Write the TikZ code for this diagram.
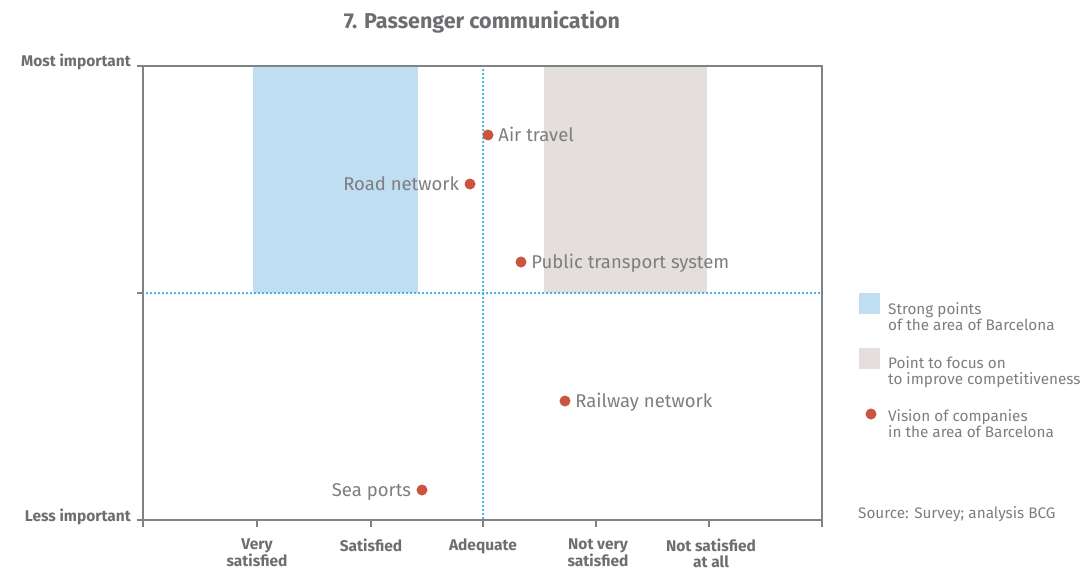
\documentclass[tikz,border=0pt]{standalone}
\usepackage{fontspec}
\setmainfont{Fira Sans}
\usetikzlibrary{positioning}
\definecolor{framegray}{HTML}{808285}
\definecolor{headgray}{HTML}{6D6E71}
\definecolor{labelgray}{HTML}{7D7E81}
\definecolor{strongblue}{HTML}{C0DEF2}
\definecolor{focusgray}{HTML}{E4DFDD}
\definecolor{visionred}{HTML}{C9553F}
\definecolor{midblue}{HTML}{29A9E0}
\tikzset{
	frame/.style={framegray,line width=1.6pt},
	midline/.style={midblue,line width=2.5pt,dash pattern=on 0pt off 4pt,line cap=round},
	vision/.style={circle,fill=visionred,inner sep=0pt,minimum size=11pt},
	itemlabel/.style={text=labelgray,font=\fontsize{18.5}{18.5}\selectfont,inner sep=0pt,text height=12.5pt,text depth=0pt},
	axislabel/.style={text=headgray,font=\bfseries\fontsize{15.5}{15.5}\selectfont,align=center,inner sep=0pt},
	legendtext/.style={text=labelgray,font=\fontsize{15.3}{16}\selectfont,align=left,inner sep=0pt,anchor=north west}
}
\begin{document}
\begin{tikzpicture}[x=1pt,y=-1pt]
		\useasboundingbox (0,0) rectangle (1084,570);
		
		% Titel
		\node[text=headgray,font=\bfseries\fontsize{21.5}{21.5}\selectfont,anchor=base] (title) at (482,28) {7. Passenger communication};
		
		% Bereiche
		\fill[strongblue] (253,66) rectangle (418,293);
		\fill[focusgray] (544,66) rectangle (707,293);
		
		% Mittellinien
		\draw[midline] (483,66) -- (483,520);
		\draw[midline] (143,293) -- (822,293);
		
		% Rahmen und Achsen
		\draw[frame] (143,520) -- (143,66) -- (822,66) -- (822,520) -- cycle;
		\foreach \y in {66,293,520} {
			\draw[frame] (137,\y) -- (143,\y);
		}
		\foreach \x in {143,257,371,483,596,709,822} {
			\draw[frame] (\x,520) -- (\x,527);
		}
		
		% Beschriftung der Achsen
		\node[axislabel,anchor=base east] (most) at (131,66) {Most important};
		\node[axislabel,anchor=base east] (less) at (131,521) {Less important};
		\foreach \x/\txt [count=\i] in {257/Very\\satisfied,371/Satisfied,483/Adequate,598/Not very\\satisfied,711/Not satisfied\\at all} {
			\node[axislabel,anchor=north] (grade\i) at (\x,539) {\txt};
		}
		
		% Punkte
		\node[vision] (air) at (488,135) {};
		\node[vision] (road) at (470,184) {};
		\node[vision] (public) at (521,262) {};
		\node[vision] (rail) at (565,401) {};
		\node[vision] (sea) at (422,490) {};
		\node[itemlabel,right=4.5pt of air] (airlbl) {Air travel};
		\node[itemlabel,left=5pt of road] (roadlbl) {Road network};
		\node[itemlabel,right=4.5pt of public] (publiclbl) {Public transport system};
		\node[itemlabel,right=4.5pt of rail] (raillbl) {Railway network};
		\node[itemlabel,left=5pt of sea] (sealbl) {Sea ports};
		
		% Legende
		\fill[strongblue] (859,293) rectangle (880,314);
		\fill[focusgray] (859,348) rectangle (880,369);
		\node[vision] (key) at (871,414) {};
		\node[legendtext] (strongtxt) at (888,302) {Strong points\\of the area of Barcelona};
		\node[legendtext] (focustxt) at (888,356) {Point to focus on\\to improve competitiveness};
		\node[legendtext] (visiontxt) at (888,409) {Vision of companies\\in the area of Barcelona};
		\node[legendtext,anchor=base west] (source) at (858,518) {Source: Survey; analysis BCG};
	\end{tikzpicture}
\end{document}
